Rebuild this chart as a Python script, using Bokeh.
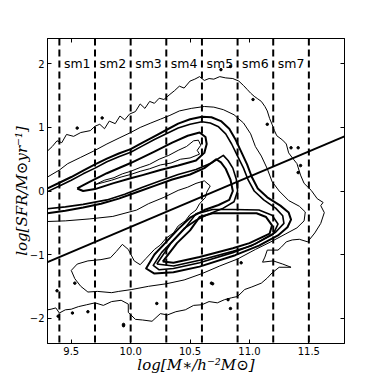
from bokeh.plotting import figure
from bokeh.models import Range1d, LinearAxis, FixedTicker, Span, PrintfTickFormatter, CustomJSTickFormatter
from bokeh.embed import file_html
from bokeh.resources import INLINE
from bokeh.core.properties import value

# ---------------- data ----------------
x_ticks = [9.5, 10.0, 10.5, 11.0, 11.5]
y_ticks = [-2, -1, 0, 1, 2]
y_tick_text = {-2: "\u22122", -1: "\u22121", 0: "0", 1: "1", 2: "2"}

bin_edges = [9.4, 9.7, 10.0, 10.3, 10.6, 10.9, 11.2, 11.5]
bin_labels = ["sm1", "sm2", "sm3", "sm4", "sm5", "sm6", "sm7"]
bin_label_y = 2.0

cut_x = [9.3, 11.8]
cut_y = [-1.12, 0.86]

# outermost contour (thin, open at the left edge)
contour_a = [(9.30, 0.63), (9.34, 0.70), (9.38, 0.79), (9.42, 0.76), (9.46, 0.89), (9.52, 0.86),
             (9.58, 0.92), (9.66, 0.95), (9.70, 1.02), (9.74, 1.05), (9.78, 0.98), (9.82, 1.10),
             (9.87, 1.06), (9.91, 1.18), (9.95, 1.12), (9.99, 1.21), (10.04, 1.25), (10.08, 1.37),
             (10.12, 1.30), (10.16, 1.41), (10.20, 1.38), (10.24, 1.46), (10.28, 1.44), (10.33, 1.52),
             (10.37, 1.58), (10.41, 1.65), (10.45, 1.62), (10.50, 1.73), (10.54, 1.76), (10.58, 1.80),
             (10.62, 1.74), (10.66, 1.77), (10.70, 1.76), (10.75, 1.80), (10.80, 1.78), (10.86, 1.77),
             (10.91, 1.73), (10.95, 1.66), (10.98, 1.60), (11.01, 1.54), (11.04, 1.49), (11.07, 1.45),
             (11.10, 1.41), (11.13, 1.33), (11.15, 1.26), (11.17, 1.14), (11.19, 1.05), (11.21, 0.95),
             (11.23, 0.87), (11.28, 0.80), (11.31, 0.74), (11.33, 0.60), (11.37, 0.50), (11.40, 0.43),
             (11.43, 0.25), (11.46, 0.12), (11.52, 0.01), (11.57, -0.12), (11.62, -0.18), (11.60, -0.23),
             (11.63, -0.34), (11.60, -0.51), (11.55, -0.66), (11.49, -0.80), (11.42, -0.76), (11.36, -0.77),
             (11.31, -0.80), (11.27, -0.88), (11.24, -0.93), (11.15, -0.93), (11.13, -1.04), (11.11, -1.12),
             (11.20, -1.10), (11.28, -1.15), (11.35, -1.20), (11.25, -1.20), (11.19, -1.29), (11.15, -1.37),
             (11.10, -1.45), (11.02, -1.51), (10.96, -1.55), (10.90, -1.66), (10.85, -1.68), (10.79, -1.71),
             (10.73, -1.76), (10.66, -1.74), (10.60, -1.79), (10.53, -1.80), (10.46, -1.87), (10.38, -1.90),
             (10.31, -1.95), (10.25, -1.93), (10.18, -2.05), (10.10, -2.03), (10.04, -2.02), (9.98, -1.91),
             (9.98, -1.78), (9.92, -1.72), (9.84, -1.74), (9.77, -1.80), (9.70, -1.76), (9.63, -1.79),
             (9.56, -1.82), (9.50, -1.86), (9.45, -1.87), (9.40, -1.92), (9.37, -1.84), (9.33, -1.86),
             (9.30, -1.87)]

# second contour (thin, open at the left edge)
contour_b = [(9.30, 0.22), (9.40, 0.33), (9.47, 0.43), (9.58, 0.53), (9.69, 0.63), (9.80, 0.74),
             (9.91, 0.84), (10.00, 0.92), (10.08, 1.00), (10.17, 1.07), (10.25, 1.13), (10.33, 1.19),
             (10.41, 1.26), (10.51, 1.30), (10.62, 1.33), (10.70, 1.32), (10.78, 1.28), (10.87, 1.20),
             (10.95, 1.07), (11.01, 0.90), (11.05, 0.70), (11.10, 0.55), (11.15, 0.35), (11.19, 0.15),
             (11.25, 0.00), (11.33, -0.15), (11.42, -0.24), (11.47, -0.33), (11.46, -0.47), (11.40, -0.58),
             (11.30, -0.68), (11.18, -0.80), (11.05, -0.92), (10.90, -1.07), (10.75, -1.18), (10.60, -1.30),
             (10.45, -1.40), (10.30, -1.46), (10.15, -1.50), (10.01, -1.55), (9.90, -1.58), (9.84, -1.60),
             (9.72, -1.58), (9.64, -1.59), (9.58, -1.50), (9.53, -1.38), (9.50, -1.25), (9.55, -1.15),
             (9.64, -1.10), (9.75, -1.08), (9.83, -1.05), (9.88, -0.95), (9.93, -0.84), (9.98, -0.92),
             (10.03, -1.10), (10.08, -1.16), (10.13, -1.06), (10.20, -0.92), (10.25, -0.85), (10.30, -0.74),
             (10.36, -0.66), (10.40, -0.55), (10.46, -0.47), (10.50, -0.37), (10.55, -0.30), (10.58, -0.20),
             (10.63, -0.10), (10.64, -0.02), (10.67, 0.08), (10.62, 0.16), (10.55, 0.12), (10.48, 0.06),
             (10.40, 0.01), (10.28, -0.10), (10.15, -0.20), (10.05, -0.30), (9.85, -0.40), (9.65, -0.44),
             (9.45, -0.47), (9.30, -0.48)]

# third contour (thick, open at the left edge)
contour_c = [(9.30, 0.04), (9.40, 0.13), (9.50, 0.22), (9.60, 0.32), (9.70, 0.42), (9.80, 0.51),
             (9.90, 0.59), (10.00, 0.66), (10.10, 0.76), (10.20, 0.86), (10.30, 0.96), (10.40, 1.06),
             (10.50, 1.13), (10.60, 1.17), (10.68, 1.16), (10.76, 1.10), (10.83, 0.98), (10.88, 0.82),
             (10.93, 0.62), (10.98, 0.42), (11.02, 0.22), (11.07, 0.04), (11.15, -0.10), (11.26, -0.23),
             (11.33, -0.34), (11.35, -0.45), (11.32, -0.57), (11.24, -0.70), (11.08, -0.86), (10.88, -1.01),
             (10.58, -1.19), (10.36, -1.28), (10.20, -1.30), (10.13, -1.22), (10.20, -1.00), (10.30, -0.80),
             (10.40, -0.60), (10.50, -0.42), (10.62, -0.30), (10.74, -0.22), (10.83, -0.14), (10.86, 0.00),
             (10.84, 0.18), (10.80, 0.35), (10.76, 0.45), (10.72, 0.50), (10.62, 0.36), (10.50, 0.26),
             (10.35, 0.18), (10.20, 0.08), (10.05, -0.02), (9.90, -0.12), (9.75, -0.20), (9.60, -0.26),
             (9.45, -0.31), (9.30, -0.35)]

# fourth contour (thick, open at the left edge)
contour_d = [(9.30, -0.01), (9.40, 0.08), (9.50, 0.17), (9.60, 0.27), (9.70, 0.36), (9.80, 0.46),
             (9.90, 0.54), (10.00, 0.61), (10.10, 0.71), (10.20, 0.81), (10.30, 0.90), (10.40, 0.99),
             (10.50, 1.05), (10.60, 1.09), (10.67, 1.07), (10.74, 1.01), (10.80, 0.90), (10.85, 0.74),
             (10.90, 0.55), (10.95, 0.36), (10.99, 0.17), (11.04, 0.00), (11.12, -0.14), (11.22, -0.27),
             (11.28, -0.39), (11.29, -0.51), (11.22, -0.65), (11.05, -0.83), (10.86, -0.97), (10.58, -1.13),
             (10.36, -1.22), (10.24, -1.24), (10.19, -1.17), (10.26, -0.97), (10.36, -0.77), (10.45, -0.59),
             (10.55, -0.46), (10.66, -0.36), (10.78, -0.27), (10.87, -0.17), (10.90, 0.00), (10.89, 0.18),
             (10.86, 0.36), (10.82, 0.48), (10.78, 0.56), (10.68, 0.44), (10.55, 0.34), (10.40, 0.26),
             (10.25, 0.16), (10.10, 0.06), (9.95, -0.05), (9.80, -0.14), (9.60, -0.21), (9.45, -0.25),
             (9.30, -0.28)]

# inner loops: star-forming peak
blue_loop_e = [(9.55, 0.04), (9.65, 0.14), (9.80, 0.28), (10.00, 0.44), (10.20, 0.62), (10.35, 0.76),
               (10.48, 0.87), (10.58, 0.92), (10.63, 0.85), (10.64, 0.74), (10.62, 0.60), (10.55, 0.48),
               (10.40, 0.40), (10.25, 0.33), (10.10, 0.25), (10.00, 0.20), (9.85, 0.12), (9.70, 0.03),
               (9.60, 0.00), (9.55, 0.04)]
blue_loop_f = [(9.70, 0.10), (9.78, 0.17), (9.86, 0.21), (9.93, 0.27), (10.00, 0.31), (10.08, 0.37),
               (10.16, 0.42), (10.24, 0.50), (10.32, 0.56), (10.40, 0.64), (10.47, 0.70), (10.53, 0.79),
               (10.57, 0.80), (10.59, 0.72), (10.56, 0.64), (10.58, 0.58), (10.50, 0.52), (10.42, 0.50),
               (10.34, 0.44), (10.25, 0.41), (10.16, 0.35), (10.08, 0.31), (10.00, 0.26), (9.92, 0.22),
               (9.84, 0.17), (9.76, 0.13), (9.70, 0.10)]

# inner loops: passive peak
red_loop_e = [(10.27, -1.11), (10.39, -0.82), (10.50, -0.62), (10.58, -0.41), (10.69, -0.35),
              (10.86, -0.35), (11.06, -0.35), (11.14, -0.41), (11.19, -0.54), (11.17, -0.67),
              (11.00, -0.82), (10.86, -0.90), (10.58, -1.04), (10.36, -1.13), (10.27, -1.11)]
red_loop_e2 = [(10.22, -1.15), (10.34, -0.82), (10.46, -0.58), (10.55, -0.36), (10.69, -0.29),
               (10.86, -0.29), (11.08, -0.30), (11.19, -0.38), (11.24, -0.52), (11.20, -0.68),
               (11.02, -0.86), (10.86, -0.95), (10.58, -1.09), (10.36, -1.18), (10.22, -1.15)]

# isolated specks
dot_x = [9.55, 9.76, 10.76, 10.84, 11.03, 11.15, 11.35, 11.41, 11.43, 11.41, 10.93, 10.69,
         10.84, 9.39, 9.51, 9.64, 9.94, 10.68, 10.82, 9.38, 9.53, 10.22, 9.94]
dot_y = [0.99, 1.15, 1.91, 1.96, 1.44, 1.05, 0.68, 0.68, 0.40, 0.29, -1.13, -1.46,
         -1.85, -1.97, -1.92, -1.90, -2.10, -1.45, -1.71, -1.57, -1.45, -1.77, -2.12]

contours = [(contour_a, 1.0), (contour_b, 1.0), (contour_c, 2.0), (contour_d, 1.6),
            (blue_loop_e, 2.0), (blue_loop_f, 1.0), (red_loop_e, 2.0), (red_loop_e2, 1.6)]

# ---------------- figure ----------------
p = figure(frame_width=297, frame_height=305, output_backend="svg", toolbar_location=None,
           x_range=Range1d(9.3, 11.8), y_range=Range1d(-2.4, 2.4),
           min_border_left=47, min_border_right=24, min_border_top=38, min_border_bottom=30,
           x_axis_label="log[M\u2217/h\u207b\u00b2M\u2299]",
           y_axis_label="log[SFR/M\u2299yr\u207b\u00b9]")
p.background_fill_color = "white"
p.border_fill_color = "white"
p.outline_line_color = "black"
p.outline_line_width = 1
p.xgrid.visible = False
p.ygrid.visible = False

for pts, lw in contours:
    xs = [q[0] for q in pts]
    ys = [q[1] for q in pts]
    p.line(xs, ys, line_color="black", line_width=lw, line_join="round")

p.scatter(dot_x, dot_y, size=2.5, color="black")

for xe in bin_edges:
    p.add_layout(Span(location=xe, dimension="height", line_color="black",
                      line_width=2, line_dash="7 4"))

label_x = [(bin_edges[i] + bin_edges[i + 1]) / 2 for i in range(len(bin_labels))]
p.text(x=label_x, y=[bin_label_y] * len(bin_labels), text=bin_labels,
       text_align="center", text_baseline="middle",
       text_font=value("DejaVu Sans"), text_font_size="12.5px", text_color="black")

p.line(cut_x, cut_y, line_color="black", line_width=2)

# axes styling
xa = p.xaxis[0]
ya = p.yaxis[0]
xa.ticker = FixedTicker(ticks=x_ticks)
ya.ticker = FixedTicker(ticks=y_ticks)
xa.formatter = PrintfTickFormatter(format="%.1f")
ya.major_label_overrides = y_tick_text
for ax in (xa, ya):
    ax.major_tick_in = 4
    ax.major_tick_out = 0
    ax.minor_tick_line_color = None
    ax.major_label_text_font = "DejaVu Sans"
    ax.major_label_text_font_size = "10px"
    ax.major_label_text_color = "black"
    ax.axis_label_text_font = "DejaVu Serif"
    ax.axis_label_text_font_style = "italic"
    ax.axis_label_text_font_size = "15px"
    ax.axis_label_text_color = "black"
    ax.axis_line_color = "black"
    ax.major_tick_line_color = "black"
xa.major_label_standoff = 3
xa.axis_label_standoff = -2
ya.major_label_standoff = 3
ya.axis_label_standoff = -4

blank = CustomJSTickFormatter(code="return ''")
top = LinearAxis(ticker=FixedTicker(ticks=x_ticks), formatter=blank,
                 major_tick_in=4, major_tick_out=0, minor_tick_line_color=None,
                 major_label_standoff=0, major_label_text_font_size="1px")
right = LinearAxis(ticker=FixedTicker(ticks=y_ticks), formatter=blank,
                   major_tick_in=4, major_tick_out=0, minor_tick_line_color=None,
                   major_label_standoff=0, major_label_text_font_size="1px")
p.add_layout(top, "above")
p.add_layout(right, "right")

open("out.html", "w").write(file_html(p, INLINE))
